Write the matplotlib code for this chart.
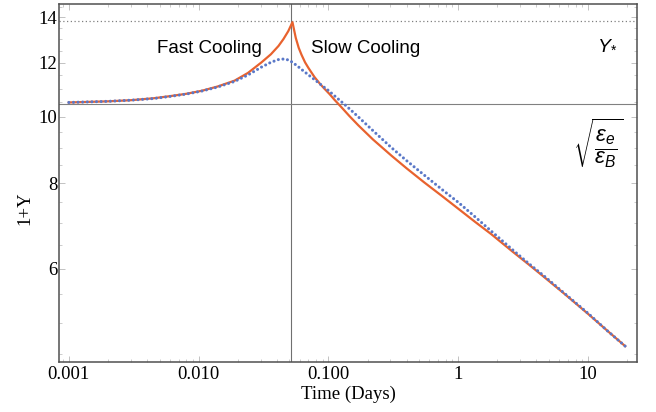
import numpy as np
import matplotlib
matplotlib.use("Agg")
import matplotlib.pyplot as plt
from matplotlib.ticker import FixedLocator, FixedFormatter, NullFormatter, LogLocator

plt.rcParams['mathtext.fontset'] = 'custom'
plt.rcParams['mathtext.rm'] = 'Liberation Sans'
plt.rcParams['mathtext.it'] = 'Liberation Sans:italic'
plt.rcParams['mathtext.bf'] = 'Liberation Sans:bold'

# values (time in days, 1+Y)
t_orange = [0.001, 0.002, 0.003, 0.0045, 0.0059, 0.008, 0.01055, 0.014, 0.0189, 0.024,
            0.0305, 0.036, 0.0412, 0.045, 0.049, 0.0528,
            0.056, 0.059, 0.062, 0.066, 0.070, 0.078, 0.086, 0.093, 0.102, 0.111,
            0.126, 0.145, 0.17, 0.22, 0.305, 0.40, 0.547, 0.75, 1.0, 1.35, 1.79,
            2.6, 3.5, 4.59, 6.5, 10.0, 14.0, 19.3]
y_orange = [10.50, 10.54, 10.58, 10.65, 10.72, 10.81, 10.92, 11.08, 11.30, 11.60,
            12.02, 12.35, 12.70, 13.00, 13.35, 13.76,
            13.05, 12.62, 12.33, 12.02, 11.80, 11.44, 11.18, 11.00, 10.80, 10.60,
            10.33, 10.03, 9.72, 9.27, 8.78, 8.41, 8.02, 7.66, 7.34, 7.02, 6.74,
            6.36, 6.08, 5.83, 5.52, 5.15, 4.87, 4.62]

t_blue = [0.001, 0.002, 0.003, 0.0045, 0.0059, 0.008, 0.01055, 0.014, 0.0189, 0.024,
          0.0305, 0.036, 0.041, 0.046, 0.050, 0.0528, 0.058, 0.064, 0.0702, 0.080,
          0.090, 0.100, 0.115, 0.13, 0.15, 0.17, 0.22, 0.305, 0.40, 0.547, 0.75,
          1.0, 1.35, 1.79, 2.6, 3.5, 4.59, 6.5, 10.0, 14.0, 19.3]
y_blue = [10.50, 10.54, 10.58, 10.64, 10.71, 10.80, 10.91, 11.06, 11.27, 11.52,
          11.83, 12.02, 12.13, 12.16, 12.10, 12.02, 11.86, 11.68, 11.52, 11.30,
          11.10, 10.93, 10.68, 10.47, 10.22, 10.00, 9.55, 9.02, 8.63, 8.22, 7.83,
          7.50, 7.14, 6.81, 6.40, 6.10, 5.85, 5.53, 5.16, 4.87, 4.62]

t_break = 0.0519      # fast -> slow cooling transition
y_star = 13.8         # Y_*
y_sqrt = 10.45        # sqrt(eps_e / eps_B)

x_ticks = [0.001, 0.01, 0.1, 1, 10]
x_labels = ['0.001', '0.010', '0.100', '1', '10']
y_ticks = [6, 8, 10, 12, 14]
y_minor = [4.5, 5, 5.5, 6.5, 7, 7.5, 8.5, 9, 9.5, 10.5, 11, 11.5, 12.5, 13, 13.5, 14.5]

fig = plt.figure(figsize=(6.56, 4.12), dpi=100)
ax = fig.add_axes([59 / 656, 50 / 412, 578 / 656, 358 / 412])

ax.set_xscale('log')
ax.set_yscale('log')
ax.set_xlim(0.00084, 23.8)
ax.set_ylim(4.38, 14.63)

gray = '#808080'
ax.axvline(t_break, color='#707070', lw=0.8, zorder=1)
ax.axhline(y_sqrt, color=gray, lw=0.8, zorder=1)
ax.axhline(y_star, color=gray, lw=0.9, linestyle=(0, (1, 2)), zorder=1)

ax.plot(t_orange, y_orange, color='#E8622E', lw=1.6, solid_joinstyle='round', zorder=3)
ax.plot(t_blue, y_blue, color='#5A78C8', lw=2.2, linestyle=(0, (0.01, 1.5)),
        dash_capstyle='round', zorder=4)

sans = 'Liberation Sans'
ax.text(0.0122, 12.58, 'Fast Cooling', fontsize=13.5, family=sans, ha='center', va='center')
ax.text(0.193, 12.58, 'Slow Cooling', fontsize=13.5, family=sans, ha='center', va='center')
ax.text(14.0, 12.8, r'$Y_{*}$', fontsize=14, ha='center', va='center')
ax.text(11.9, 9.16, r'$\sqrt{\dfrac{\epsilon_e}{\epsilon_B}}$', fontsize=16,
        ha='center', va='center')

# ticks
ax.xaxis.set_major_locator(FixedLocator(x_ticks))
ax.xaxis.set_major_formatter(FixedFormatter(x_labels))
ax.xaxis.set_minor_locator(LogLocator(base=10, subs=np.arange(2, 10)))
ax.xaxis.set_minor_formatter(NullFormatter())
ax.yaxis.set_major_locator(FixedLocator(y_ticks))
ax.yaxis.set_major_formatter(FixedFormatter([str(v) for v in y_ticks]))
ax.yaxis.set_minor_locator(FixedLocator(y_minor))
ax.yaxis.set_minor_formatter(NullFormatter())

ax.tick_params(which='both', direction='in', top=True, right=True, color='#b8b8b8')
ax.tick_params(which='major', length=4, width=0.6)
ax.tick_params(which='minor', length=2, width=0.5)
ax.tick_params(axis='x', pad=3)
ax.tick_params(axis='y', pad=1)

serif = 'Liberation Serif'
for lab in ax.get_xticklabels() + ax.get_yticklabels():
    lab.set_family(serif)
    lab.set_fontsize(13.5)

for sp in ax.spines.values():
    sp.set_color('#505050')
    sp.set_linewidth(1.1)

ax.set_xlabel('Time (Days)', family=serif, fontsize=13.5, labelpad=2)
ax.set_ylabel('1+Y', family=serif, fontsize=13.5)
ax.yaxis.set_label_coords(-0.045, 0.43)

fig.savefig('out.png', dpi=100)
